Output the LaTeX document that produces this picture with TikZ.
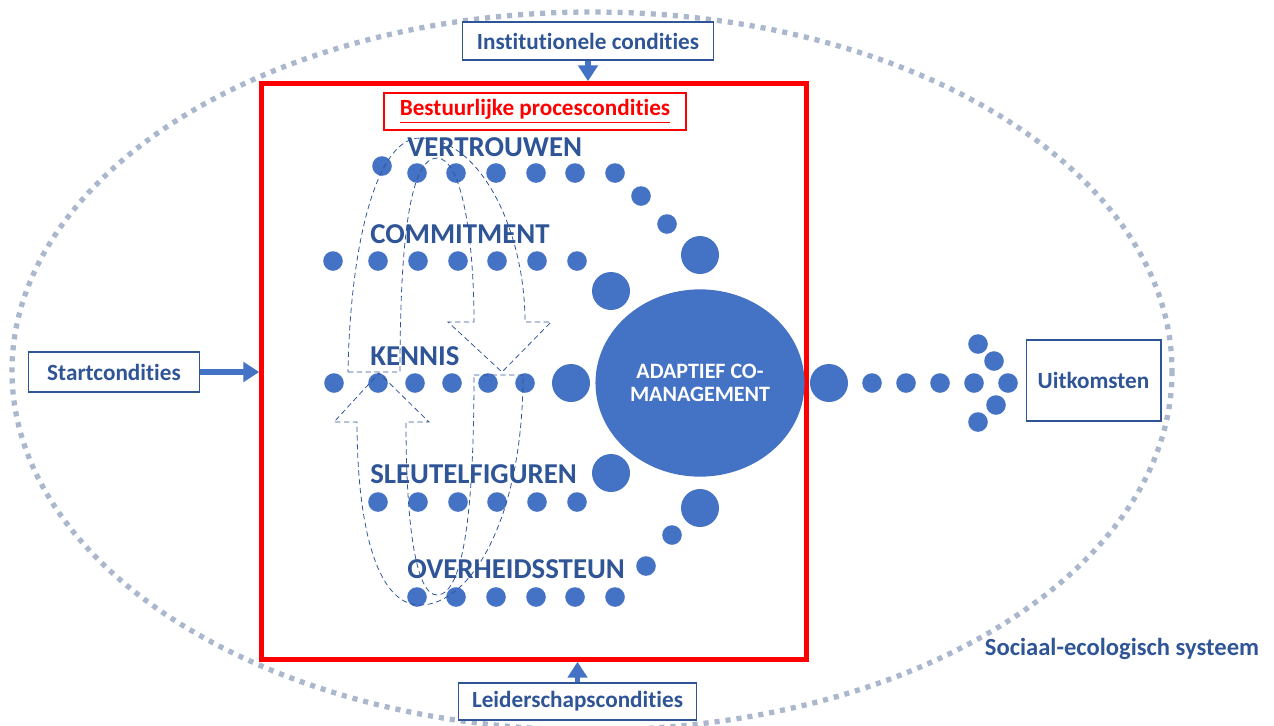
\documentclass[tikz,border=0pt]{standalone}
\usepackage{fontspec}
\setmainfont{Carlito}[Ligatures=NoCommon]
\usepackage{xcolor}
\usetikzlibrary{shapes.geometric,arrows.meta,positioning}
\definecolor{dotblue}{RGB}{68, 114, 196}
\definecolor{textblue}{RGB}{47, 85, 151}
\definecolor{ringgray}{RGB}{170, 183, 205}
\definecolor{framered}{RGB}{255, 0, 0}

\begin{document}
\begin{tikzpicture}[
    x=0.02cm, y=-0.02cm,
    % boxes, labels and connectors
    condbox/.style={rectangle, draw=textblue, line width=0.9pt, fill=white, text=textblue, font=\fontsize{13.2}{15}\selectfont\bfseries, inner sep=0pt},
    factor/.style={anchor=base west, text=textblue, font=\fontsize{16.4}{19}\selectfont\bfseries, inner sep=0pt},
    push/.style={-{Triangle[length=9pt, width=11pt]}, draw=dotblue, line width=3pt},
    loopline/.style={draw=textblue, densely dashed, line width=0.45pt},
    ring/.style={draw=ringgray, line width=3pt, dash pattern=on 2.9pt off 3.4pt},
    dot/.style={fill=dotblue}
]
\useasboundingbox (0,0) rectangle (1274,725);

% Outer system
\draw [ring] (592,371) ellipse [x radius=580, y radius=359];

% Process frame and its title
\node [draw=framered, line width=2.8pt, minimum width=310pt, minimum height=327.7pt, inner sep=0pt] (frame) at (534,371.5) {};
\node [draw=framered, line width=1.2pt, fill=white, minimum width=172.3pt, minimum height=21pt, inner sep=0pt, text=framered, font=\fontsize{13.2}{15}\selectfont\bfseries] (bestuur) at (535,111.5) {\underline{Bestuurlijke procescondities}};

% Conditions around the frame
\node [condbox, minimum width=142.9pt, minimum height=21.5pt] (inst) at (588,41) {Institutionele condities};
\node [condbox, minimum width=135.5pt, minimum height=21pt] (leider) at (577.5,701.5) {Leiderschapscondities};
\node [condbox, minimum width=97.5pt, minimum height=22.7pt] (start) at (114,372) {Startcondities};
\node [condbox, minimum width=76.5pt, minimum height=45.9pt] (uitkomst) at (1093.5,380.5) {Uitkomsten};
\node [anchor=base, text=textblue, inner sep=0pt, font=\fontsize{14}{16}\selectfont\bfseries] (sociaal) at (1122,655) {Sociaal-ecologisch systeem};

% Process factors
\node [factor] (vertrouwen) at (407,156) {VERTROUWEN};
\node [factor] (commitment) at (370,243) {COMMITMENT};
\node [factor] (kennis) at (370,365) {KENNIS};
\node [factor] (sleutel) at (370,483) {SLEUTELFIGUREN};
\node [factor] (overheid) at (407,578) {OVERHEIDSSTEUN};

% Dotted rows towards the centre
\fill [dot] (382,166) circle [radius=9.8];
\foreach \x in {417,456,496,536,575,615} \fill [dot] (\x,173) circle [radius=9.8];
\fill [dot] (641,196) circle [radius=9.8];
\fill [dot] (667,224) circle [radius=9.8];
\fill [dot] (700,255) circle [radius=19];

\foreach \x in {333,378,418,458,497,537,577} \fill [dot] (\x,261) circle [radius=9.8];
\fill [dot] (611,291) circle [radius=19];

\foreach \x in {334,378,415,452,488,525} \fill [dot] (\x,383) circle [radius=9.8];
\fill [dot] (571,383) circle [radius=19];

\foreach \x in {378,418,458,497,537,577} \fill [dot] (\x,502) circle [radius=9.8];
\fill [dot] (611,473) circle [radius=19];

\foreach \x in {417,456,496,536,575,615} \fill [dot] (\x,597) circle [radius=9.8];
\fill [dot] (646,566) circle [radius=9.8];
\fill [dot] (672,535) circle [radius=9.8];
\fill [dot] (700,508) circle [radius=19];

% Centre
\node [ellipse, fill=dotblue, minimum width=119pt, minimum height=106.6pt, inner sep=0pt, text=white, align=center, font=\fontsize{12.5}{13.2}\selectfont\bfseries] (acm) at (700,383) {ADAPTIEF CO-\\MANAGEMENT};

% Dotted arrow towards the outcomes
\fill [dot] (829,383) circle [radius=19];
\foreach \x in {872,906,940,974,1008} \fill [dot] (\x,383) circle [radius=9.8];
\foreach \p in {(978,344),(994,361),(996,405),(978,422)} \fill [dot] \p circle [radius=9.8];

% Feedback loops
\draw [loopline] (348,372) -- (400,372) .. controls (400,240) and (410,158) .. (437,158)
    .. controls (462,158) and (474,240) .. (474,322) -- (448,322) -- (502,372) -- (551,322) -- (525,322)
    .. controls (525,230) and (480,138) .. (420,138) .. controls (375,138) and (350,250) .. (348,372);
\draw [loopline] (474,375) -- (523,375) .. controls (523,520) and (470,605) .. (420,605)
    .. controls (375,605) and (357,520) .. (357,422) -- (334,422) -- (379,373) -- (429,422) -- (406,422)
    .. controls (406,520) and (415,595) .. (437,595) .. controls (465,595) and (474,500) .. (474,375);

% Conditions acting on the process
\draw [push] (inst) -- (inst.south |- frame.north);
\draw [push] (leider) -- (leider.north |- frame.south);
\draw [push] (start) -- (start.east -| frame.west);

\end{tikzpicture}
\end{document}
